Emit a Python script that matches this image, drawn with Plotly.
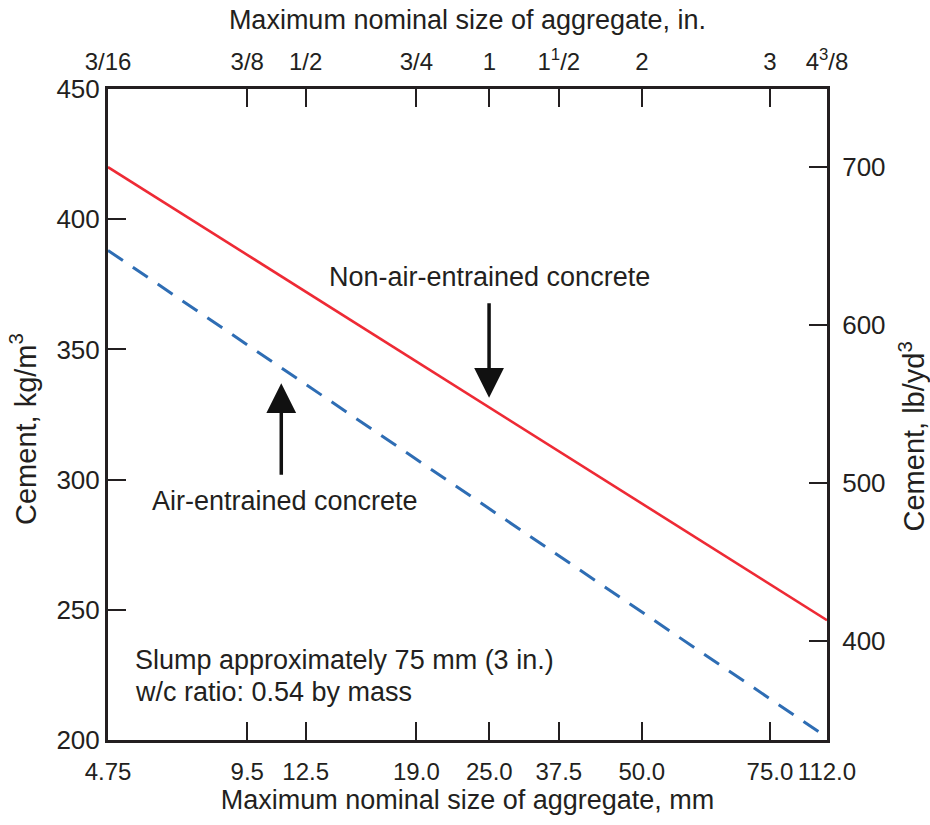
import numpy as np
import plotly.graph_objects as go

# ---- data ----
sizes_mm = [4.75, 9.5, 12.5, 19.0, 25.0, 37.5, 50.0, 75.0, 112.0]
mm_labels = ["4.75", "9.5", "12.5", "19.0", "25.0", "37.5", "50.0", "75.0", "112.0"]
in_labels = ["3/16", "3/8", "1/2", "3/4", "1", "1<sup>1</sup>/2", "2", "3", "4<sup>3</sup>/8"]
# position of each sieve size along the chart's (non-uniform) size scale, 0-100
scale_pos = [0.0, 19.37, 27.49, 42.89, 53.04, 62.70, 74.25, 92.07, 100.0]

cement_non_air = [420.0, 386.3, 372.2, 345.4, 327.7, 310.9, 290.8, 259.8, 246.0]  # kg/m3
cement_air = [388.0, 351.8, 336.6, 307.8, 288.8, 270.8, 249.2, 215.8, 201.0]       # kg/m3

kg_range = [200, 450]
kg_ticks = [200, 250, 300, 350, 400, 450]
lb_range = [337.7, 749.0]   # right axis extent as drawn in the source chart
lb_ticks = [400, 500, 600, 700]
KG_TO_LB = 1.6856


def to_pos(mm):
    return np.interp(np.log(mm), np.log(sizes_mm), scale_pos)


INK = "#231F20"
FONT = "Liberation Sans, Arial, sans-serif"

fig = go.Figure()
fig.add_trace(go.Scatter(x=to_pos(sizes_mm), y=cement_non_air, mode="lines",
                         line=dict(color="#EE2A35", width=2.6), hoverinfo="skip",
                         showlegend=False))
fig.add_trace(go.Scatter(x=to_pos(sizes_mm), y=cement_air, mode="lines",
                         line=dict(color="#2E6DB4", width=3, dash="18px,12px"),
                         hoverinfo="skip", showlegend=False))
# carrier trace for the secondary (top / right) axes
fig.add_trace(go.Scatter(x=to_pos(sizes_mm), y=[v * KG_TO_LB for v in cement_air],
                         xaxis="x2", yaxis="y2", mode="lines",
                         line=dict(color="rgba(0,0,0,0)", width=0),
                         hoverinfo="skip", showlegend=False))

xtick_font = dict(family=FONT, size=24, color=INK)
ytick_font = dict(family=FONT, size=26, color=INK)
title_font = dict(family=FONT, size=27, color=INK)
axis_common = dict(showline=True, linewidth=3, linecolor=INK, ticks="inside",
                   ticklen=18, tickwidth=1.5, tickcolor=INK, showgrid=False,
                   zeroline=False, title_font=title_font, automargin=False,
                   tickangle=0)

fig.update_layout(
    width=930, height=825,
    margin=dict(l=108, r=103, t=89, b=85),
    paper_bgcolor="white", plot_bgcolor="white",
    xaxis=dict(range=[0, 100], tickvals=scale_pos, ticktext=mm_labels,
               ticklabelstandoff=8, tickfont=xtick_font,
               title=dict(text="Maximum nominal size of aggregate, mm", standoff=4),
               **axis_common),
    xaxis2=dict(range=[0, 100], tickvals=scale_pos, ticktext=in_labels,
                overlaying="x", side="top", anchor="y", ticklabelstandoff=6,
                tickfont=xtick_font,
                title=dict(text="Maximum nominal size of aggregate, in.", standoff=8),
                **axis_common),
    yaxis=dict(range=kg_range, tickvals=kg_ticks, tickfont=ytick_font, **axis_common),
    yaxis2=dict(range=lb_range, tickvals=lb_ticks,
                overlaying="y", side="right", anchor="x", ticklabelstandoff=7,
                tickfont=ytick_font, **axis_common),
)

# vertical axis titles (placed as rotated texts)
ytitle_font = dict(family=FONT, size=29, color=INK)
fig.add_annotation(xref="paper", yref="paper", x=-0.118, y=0.478, textangle=-90,
                   xanchor="center", yanchor="middle",
                   text="Cement, kg/m<sup>3</sup>", showarrow=False, font=ytitle_font)
fig.add_annotation(xref="paper", yref="paper", x=1.118, y=0.466, textangle=-90,
                   xanchor="center", yanchor="middle",
                   text="Cement, lb/yd<sup>3</sup>", showarrow=False, font=ytitle_font)

ann_font = dict(family=FONT, size=27, color=INK)
fig.add_annotation(x=53.1, y=377.9, xref="x", yref="y", text="Non-air-entrained concrete",
                   showarrow=False, font=ann_font)
fig.add_annotation(x=24.6, y=291.6, xref="x", yref="y", text="Air-entrained concrete",
                   showarrow=False, font=ann_font)
fig.add_annotation(x=3.47, y=230.75, xref="x", yref="y", xanchor="left",
                   text="Slump approximately 75 mm (3 in.)", showarrow=False, font=ann_font)
fig.add_annotation(x=3.47, y=218.56, xref="x", yref="y", xanchor="left",
                   text="w/c ratio: 0.54 by mass", showarrow=False, font=ann_font)
# arrows
fig.add_annotation(x=53.0, y=331.4, xref="x", yref="y", ax=0, ay=-96, text="",
                   showarrow=True, arrowhead=2, arrowsize=1.7, arrowwidth=3.5,
                   arrowcolor="#111111")
fig.add_annotation(x=24.1, y=337.0, xref="x", yref="y", ax=0, ay=93, text="",
                   showarrow=True, arrowhead=2, arrowsize=1.7, arrowwidth=3.5,
                   arrowcolor="#111111")

fig.write_html("out.html")
